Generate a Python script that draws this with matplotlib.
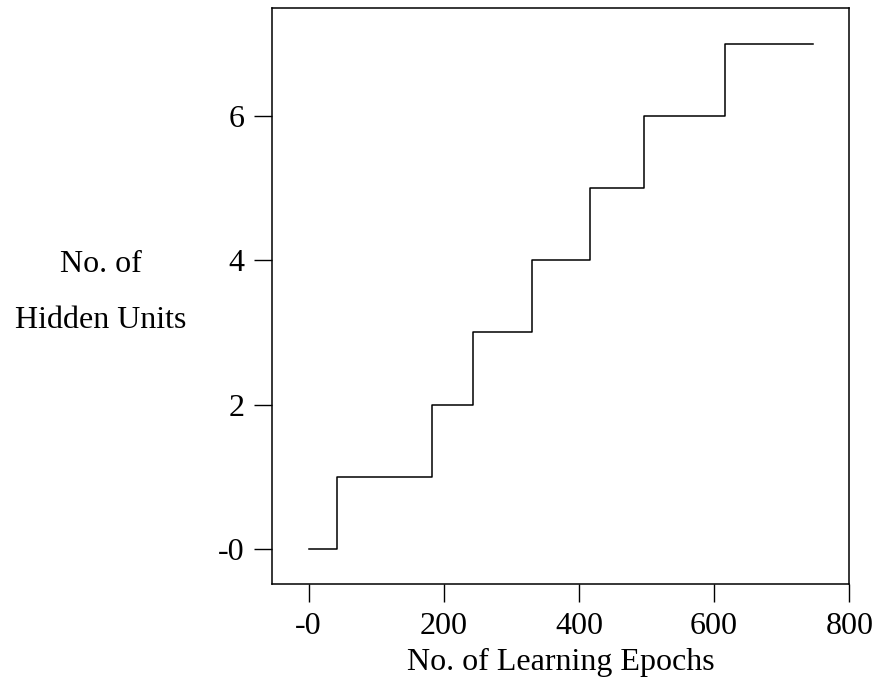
import matplotlib
matplotlib.use("Agg")
import matplotlib.pyplot as plt

matplotlib.rcParams.update({
    "font.family": "Liberation Serif",
    "font.size": 23,
})

# step edges (learning epochs) and number of hidden units after each edge
epochs = [0, 42, 182, 244, 330, 417, 496, 616, 747]
units = [0, 1, 2, 3, 4, 5, 6, 7, 7]

xticks = [0, 200, 400, 600, 800]
xtick_labels = ["-0", "200", "400", "600", "800"]
yticks = [0, 2, 4, 6]
ytick_labels = ["-0", "2", "4", "6"]

fig = plt.figure(figsize=(8.78, 6.81), dpi=100)
ax = fig.add_axes([0.3098, 0.1424, 0.9673 - 0.3098, 0.9878 - 0.1424])

ax.step(epochs, units, where="post", color="black", linewidth=1.1)

ax.set_xlim(-54, 800)
ax.set_ylim(-0.485, 7.49)
ax.set_xticks(xticks)
ax.set_xticklabels(xtick_labels)
ax.set_yticks(yticks)
ax.set_yticklabels(ytick_labels)
ax.tick_params(direction="out", length=13, width=1.0, pad=7)
for s in ax.spines.values():
    s.set_linewidth(1.1)

fig.text(561 / 878, 1 - 662 / 681, "No. of Learning Epochs", ha="center", va="center")
fig.text(101 / 878, 1 - 265 / 681, "No. of", ha="center", va="center")
fig.text(101 / 878, 1 - 321 / 681, "Hidden Units", ha="center", va="center")

fig.savefig("out.png", dpi=100)
